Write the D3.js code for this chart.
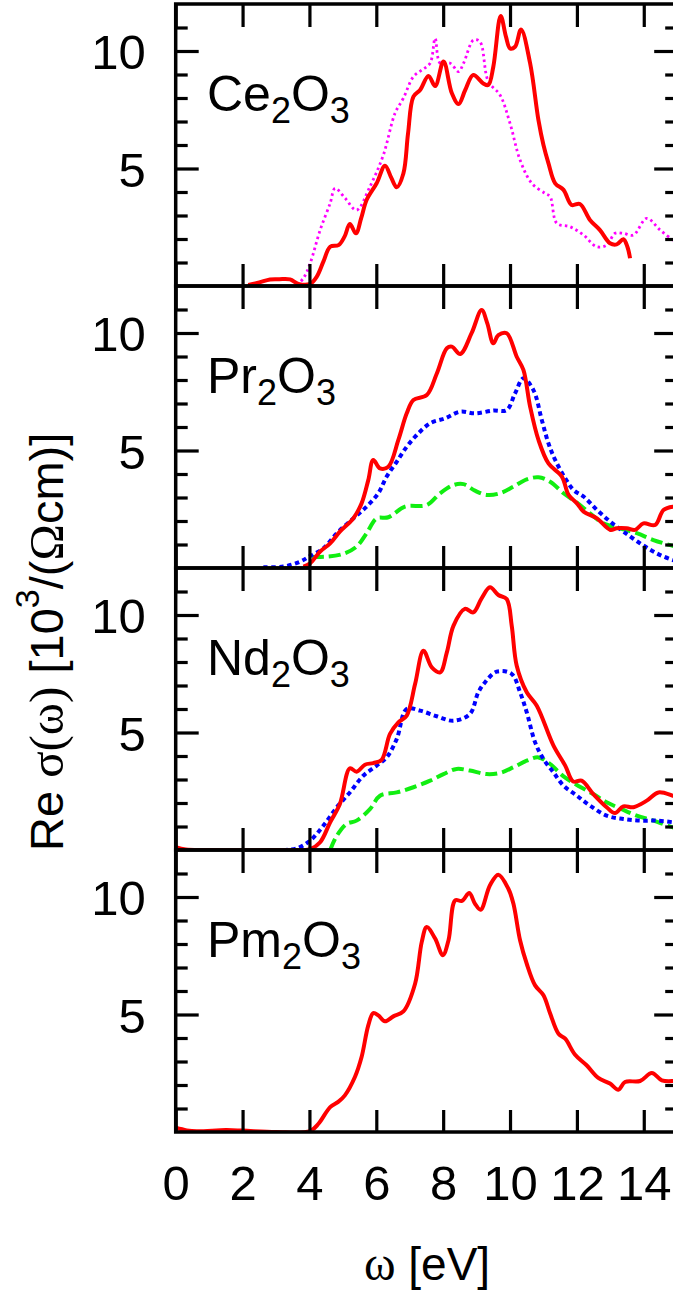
<!DOCTYPE html>
<html>
<head>
<meta charset="utf-8">
<script src="https://cdn.jsdelivr.net/npm/d3@7"></script>
<style>
html,body{margin:0;padding:0;background:#fff;}
svg{display:block;}
</style>
</head>
<body>
<script>
// ---------- data ----------
const xTicks = [0, 2, 4, 6, 8, 10, 12, 14];
const yMajorTicks = [5, 10];
const yMinorTicks = [1, 2, 3, 4, 6, 7, 8, 9, 11];
const panelNames = ["Ce", "Pr", "Nd", "Pm"];

// Ce2O3
const ceSolid = [[2.17,0.04],[2.5,0.15],[2.82,0.28],[3.1,0.29],[3.42,0.28],[3.67,0.09],[4.02,0.09],[4.22,0.4],[4.42,1.05],[4.62,1.67],[4.87,1.74],[5.05,2.1],[5.21,2.64],[5.39,2.24],[5.55,2.9],[5.71,3.66],[6.01,4.37],[6.26,5.12],[6.45,4.6],[6.61,4.2],[6.81,4.79],[6.95,6.5],[7.11,8.06],[7.31,8.34],[7.56,8.94],[7.76,8.51],[8.01,9.55],[8.26,8.2],[8.46,7.74],[8.66,8.34],[8.9,8.98],[9.2,8.62],[9.35,8.55],[9.5,9.33],[9.72,11.49],[9.88,10.6],[10.0,10.11],[10.15,10.18],[10.33,10.92],[10.6,9.48],[10.85,7.06],[11.0,6.0],[11.15,5.22],[11.35,4.37],[11.6,4.09],[11.84,3.45],[12.09,3.49],[12.39,2.81],[12.69,2.38],[12.99,1.82],[13.19,1.77],[13.39,1.99],[13.51,1.67],[13.59,1.18]];
const ceDotted = [[3.62,0.04],[3.82,0.33],[4.02,0.96],[4.32,2.38],[4.62,3.52],[4.77,4.16],[5.07,3.73],[5.41,3.23],[5.81,4.23],[6.21,5.57],[6.56,7.35],[6.81,7.99],[7.11,8.91],[7.36,9.19],[7.61,9.48],[7.76,10.54],[7.91,9.48],[8.21,9.48],[8.46,9.12],[8.61,9.48],[8.91,10.47],[9.1,10.4],[9.35,8.7],[9.7,8.13],[10.0,6.92],[10.3,5.36],[10.65,4.37],[11.05,3.94],[11.2,3.8],[11.4,2.67],[11.8,2.52],[12.2,2.17],[12.59,1.67],[12.89,1.74],[13.14,2.24],[13.39,2.24],[13.69,2.17],[14.09,2.88],[14.49,2.38],[14.87,1.96],[15.0,1.85]];

// Pr2O3
const prSolid = [[3.82,0.06],[4.02,0.2],[4.32,0.7],[4.62,1.05],[4.91,1.55],[5.31,2.11],[5.56,2.75],[5.76,3.74],[5.91,4.6],[6.11,4.24],[6.36,4.31],[6.66,5.45],[6.91,6.58],[7.11,7.15],[7.51,7.36],[7.81,8.28],[8.11,9.35],[8.26,9.42],[8.51,9.11],[8.85,9.99],[9.15,10.98],[9.32,10.41],[9.5,9.56],[9.65,9.91],[9.9,9.99],[10.2,8.99],[10.4,8.43],[10.6,6.87],[10.85,5.45],[11.15,4.45],[11.55,3.89],[11.75,3.11],[12.0,2.75],[12.2,2.4],[12.6,2.11],[13.0,1.62],[13.19,1.69],[13.49,1.69],[13.74,1.62],[13.99,1.9],[14.34,1.83],[14.59,2.47],[14.87,2.61],[15.0,2.6]];
const prDotted = [[2.62,0.03],[3.22,0.06],[3.72,0.27],[4.02,0.51],[4.42,0.84],[4.82,1.48],[5.31,2.11],[5.71,2.61],[6.06,3.18],[6.31,3.89],[6.61,4.52],[6.91,5.16],[7.21,5.66],[7.61,6.16],[8.06,6.37],[8.51,6.65],[8.95,6.58],[9.5,6.7],[9.9,6.72],[10.15,7.43],[10.4,8.07],[10.7,7.57],[10.95,6.3],[11.15,5.3],[11.35,4.6],[11.65,3.82],[11.9,3.32],[12.2,3.04],[12.6,2.47],[13.0,1.97],[13.39,1.55],[13.89,1.05],[14.39,0.62],[14.87,0.34],[15.0,0.3]];
const prDashed = [[4.07,0.48],[4.52,0.48],[5.01,0.6],[5.41,0.91],[5.71,1.48],[6.01,2.11],[6.36,2.16],[6.86,2.61],[7.51,2.68],[7.91,3.18],[8.31,3.53],[8.61,3.57],[8.95,3.29],[9.3,3.11],[9.7,3.18],[10.1,3.46],[10.5,3.77],[10.85,3.86],[11.2,3.67],[11.6,3.18],[12.0,2.78],[12.39,2.33],[12.79,1.9],[13.29,1.69],[13.79,1.48],[14.29,1.19],[14.87,0.94],[15.0,0.9]];

// Nd2O3
const ndSolid = [[0.0,0.12],[0.3,0.02],[1.0,0.0],[3.0,0.0],[4.02,0.04],[4.32,0.33],[4.62,1.18],[4.91,1.96],[5.21,3.48],[5.41,3.33],[5.66,3.63],[5.91,3.7],[6.16,3.84],[6.41,4.94],[6.66,5.43],[6.91,5.72],[7.16,7.06],[7.41,8.48],[7.66,7.77],[7.91,7.56],[8.11,8.41],[8.31,9.55],[8.65,10.26],[8.9,10.11],[9.15,10.71],[9.4,11.18],[9.65,10.85],[9.9,10.68],[10.05,9.55],[10.2,7.84],[10.5,6.71],[10.8,6.14],[11.3,4.44],[11.65,3.59],[11.89,2.91],[12.14,2.95],[12.49,2.38],[12.89,1.82],[13.14,1.57],[13.39,1.86],[13.69,1.82],[14.09,2.1],[14.44,2.45],[14.87,2.31],[15.0,2.25]];
const ndDotted = [[3.22,0.0],[3.62,0.07],[4.02,0.4],[4.42,1.04],[4.82,1.82],[5.21,2.45],[5.61,3.16],[6.01,3.59],[6.31,3.94],[6.61,4.72],[6.91,6.0],[7.31,5.93],[7.81,5.69],[8.31,5.5],[8.8,5.79],[9.05,6.71],[9.25,7.13],[9.6,7.59],[10.05,7.49],[10.3,6.71],[10.5,5.86],[10.75,4.58],[11.0,3.87],[11.3,3.3],[11.6,2.74],[12.0,2.31],[12.39,1.89],[12.89,1.46],[13.39,1.32],[13.89,1.25],[14.39,1.25],[14.87,1.18],[15.0,1.15]];
const ndDashed = [[4.62,0.0],[4.82,0.61],[5.11,1.11],[5.41,1.25],[5.81,1.74],[6.11,2.31],[6.61,2.45],[7.11,2.67],[7.61,2.95],[8.01,3.23],[8.4,3.45],[8.8,3.38],[9.3,3.23],[9.7,3.28],[10.1,3.52],[10.5,3.8],[10.85,3.94],[11.2,3.66],[11.6,3.13],[12.0,2.77],[12.49,2.38],[12.89,2.03],[13.29,1.77],[13.79,1.46],[14.29,1.25],[14.87,0.96],[15.0,0.92]];

// Pm2O3
const pmSolid = [[0.0,0.18],[0.33,0.07],[0.63,0.03],[1.5,0.08],[2.0,0.06],[3.0,0.0],[4.02,0.04],[4.27,0.35],[4.62,1.06],[4.86,1.28],[5.06,1.56],[5.36,2.34],[5.56,3.19],[5.76,4.54],[5.91,5.06],[6.06,4.96],[6.26,4.71],[6.51,4.92],[6.81,5.13],[7.16,6.31],[7.36,8.09],[7.51,8.72],[7.76,8.23],[7.99,7.52],[8.16,8.16],[8.36,9.86],[8.56,9.83],[8.78,10.17],[8.95,9.72],[9.12,9.46],[9.4,10.5],[9.65,10.95],[9.95,10.35],[10.1,9.72],[10.3,8.16],[10.5,7.16],[10.75,6.24],[11.0,5.82],[11.2,5.04],[11.45,4.18],[11.65,3.97],[11.94,3.3],[12.29,2.84],[12.64,2.3],[12.99,2.06],[13.24,1.8],[13.44,2.13],[13.89,2.17],[14.24,2.51],[14.54,2.2],[14.87,2.17],[15.0,2.2]];

const panelSeries = [
  [{d: ceDotted, s: "magenta"}, {d: ceSolid, s: "red"}],
  [{d: prDashed, s: "green"}, {d: prDotted, s: "blue"}, {d: prSolid, s: "red"}],
  [{d: ndDashed, s: "green"}, {d: ndDotted, s: "blue"}, {d: ndSolid, s: "red"}],
  [{d: pmSolid, s: "red"}]
];

// ---------- styles ----------
const styles = {
  red:     {color: "#ff0000", width: 4, dash: null},
  magenta: {color: "#ff00ff", width: 2.8, dash: "2.5,3.2"},
  blue:    {color: "#0000ff", width: 4, dash: "4.5,3.5"},
  green:   {color: "#11ee11", width: 4, dash: "12,5"}
};

const W = 673, H = 1293;
const panelTops = [4, 286, 568, 850];
const panelH = 282;
const left = 175.7, right = 677.2;

const svg = d3.select("body").append("svg").attr("width", W).attr("height", H)
  .style("font-family", "'Liberation Sans', Arial, sans-serif");
const defs = svg.append("defs");

const x = d3.scaleLinear().domain([0, 15]).range([left, right]);

panelSeries.forEach((series, i) => {
  const top = panelTops[i];
  const y = d3.scaleLinear().domain([0, 12]).range([top + panelH, top]);
  const g = svg.append("g");

  defs.append("clipPath").attr("id", "clip" + i).append("rect")
    .attr("x", left).attr("y", top - 3).attr("width", right - left).attr("height", panelH + 3);

  const line = d3.line().x(d => x(d[0])).y(d => y(d[1])).curve(d3.curveCatmullRom.alpha(0.5));
  const cg = g.append("g").attr("clip-path", `url(#clip${i})`);
  series.forEach(sr => {
    const st = styles[sr.s];
    cg.append("path").datum(sr.d).attr("d", line)
      .attr("fill", "none").attr("stroke", st.color).attr("stroke-width", st.width)
      .attr("stroke-linejoin", "round")
      .attr("stroke-dasharray", st.dash);
  });

  // frame
  g.append("rect").attr("x", left).attr("y", top).attr("width", right - left).attr("height", panelH)
    .attr("fill", "none").attr("stroke", "#000").attr("stroke-width", 3.5);

  // x ticks (bottom & top, inward)
  const xb = g.append("g").attr("transform", `translate(0,${top + panelH})`)
    .call(d3.axisBottom(x).tickValues(xTicks).tickSizeInner(-22).tickSizeOuter(0).tickPadding(38)
      .tickFormat(i === 3 ? d3.format("d") : () => ""));
  const xt = g.append("g").attr("transform", `translate(0,${top})`)
    .call(d3.axisTop(x).tickValues(xTicks).tickSizeInner(-23).tickSizeOuter(0).tickFormat(() => ""));

  // y ticks left
  const yl1 = g.append("g").attr("transform", `translate(${left},0)`)
    .call(d3.axisLeft(y).tickValues(yMinorTicks).tickSizeInner(-12).tickSizeOuter(0).tickFormat(() => ""));
  const yl2 = g.append("g").attr("transform", `translate(${left},0)`)
    .call(d3.axisLeft(y).tickValues(yMajorTicks).tickSizeInner(-23).tickSizeOuter(0).tickPadding(30).tickFormat(d3.format("d")));
  // y ticks right
  const yr1 = g.append("g").attr("transform", `translate(${right},0)`)
    .call(d3.axisRight(y).tickValues(yMinorTicks).tickSizeInner(-12).tickSizeOuter(0).tickFormat(() => ""));
  const yr2 = g.append("g").attr("transform", `translate(${right},0)`)
    .call(d3.axisRight(y).tickValues(yMajorTicks).tickSizeInner(-23).tickSizeOuter(0).tickFormat(() => ""));

  [xb, xt, yl1, yl2, yr1, yr2].forEach(ax => {
    ax.select(".domain").remove();
    ax.selectAll(".tick line").attr("stroke", "#000").attr("stroke-width", 3.2);
    ax.selectAll(".tick text").attr("fill", "#000").style("font-size", "49px")
      .style("font-family", "'Liberation Sans', Arial, sans-serif");
  });
  yl2.selectAll(".tick text").attr("dy", "0.36em");
  if (i === 3) xb.selectAll(".tick text").attr("dy", "0.71em").attr("y", 33);

  // panel label
  const lab = g.append("text").attr("x", 207).attr("y", top + 107)
    .style("font-size", "50px").attr("fill", "#000");
  lab.append("tspan").text(panelNames[i]);
  lab.append("tspan").text("2").style("font-size", "36px").attr("dy", 12);
  lab.append("tspan").text("O").attr("dy", -12);
  lab.append("tspan").text("3").style("font-size", "36px").attr("dy", 12);
});

// x label
const xl = svg.append("text").attr("x", 427).attr("y", 1280).attr("text-anchor", "middle")
  .style("font-size", "46px").attr("fill", "#000");
xl.append("tspan").text("ω").style("font-family", "'Liberation Serif', 'Times New Roman', serif").style("font-size", "48px");
xl.append("tspan").text(" [eV]");

// y label
const yl = svg.append("text").attr("transform", "translate(63,851) rotate(-90)")
  .attr("text-anchor", "start").style("font-size", "47px").attr("fill", "#000");
yl.append("tspan").text("Re ");
yl.append("tspan").text("σ(ω)").style("font-family", "'Liberation Serif', 'Times New Roman', serif").style("font-size", "49px");
yl.append("tspan").text(" [10");
yl.append("tspan").text("3").style("font-size", "34px").attr("dy", -24);
yl.append("tspan").text("/(").attr("dy", 24);
yl.append("tspan").text("Ω").style("font-family", "'Liberation Serif', 'Times New Roman', serif").style("font-size", "49px");
yl.append("tspan").text("cm)]");
</script>
</body>
</html>
